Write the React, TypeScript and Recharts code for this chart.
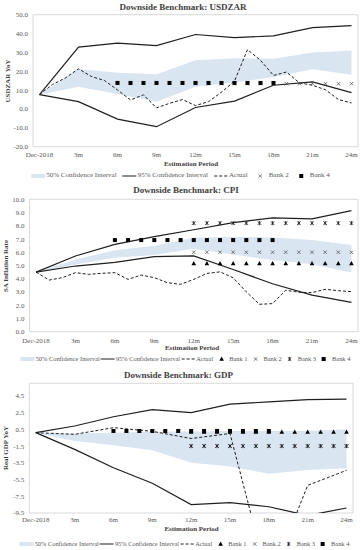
import React from "react"
import { ComposedChart, Line, Area, XAxis, YAxis, ReferenceArea } from "recharts"

// x positions: months after Dec-2018
const MONTHS = [0, 1, 2, 3, 4, 5, 6, 7, 8, 9, 10, 11, 12, 13, 14, 15, 16, 17, 18, 19, 20, 21, 22, 23, 24]
const QUARTERS = [0, 3, 6, 9, 12, 15, 18, 21, 24]
const TICK_LABELS = ["Dec-2018", "3m", "6m", "9m", "12m", "15m", "18m", "21m", "24m"]
const BANK4_MONTHS = [6, 7, 8, 9, 10, 11, 12, 13, 14, 15, 16, 17, 18]
const LATE_MONTHS = [12, 13, 14, 15, 16, 17, 18, 19, 20, 21, 22, 23, 24]

// USDZAR
const zarBandLow = [7.6, 11.8, 8.0, 3.8, 11.8, 14.0, 17.0, 21.1, 18.1]
const zarBandHigh = [7.6, 21.2, 19.2, 18.4, 25.8, 26.9, 26.6, 30.0, 31.0]
const zarUpper95 = [7.6, 32.8, 34.9, 33.6, 39.5, 37.8, 38.8, 43.1, 44.2]
const zarLower95 = [7.6, 3.9, -5.4, -9.4, 0.8, 4.2, 12.6, 14.4, 8.7]
const zarActual = [7.6, 13.0, 16.5, 21.3, 17.2, 15.1, 10.1, 4.8, 7.5, 0.6, 3.0, 5.0, 1.8, 3.9, 8.9, 14.8, 31.5, 25.8, 17.8, 19.6, 13.8, 12.6, 10.2, 5.0, 3.2]
const zarBank2 = [13.4, 13.4, 13.4, 13.4, 13.4, 13.4, 13.4, 13.4, 13.4, 13.4, 13.4, 13.4, 13.4]
const zarBank4 = [13.8, 13.8, 13.8, 13.8, 13.8, 13.8, 13.8, 13.8, 13.8, 13.8, 13.8, 13.8, 13.8]

// CPI
const cpiBandLow = [4.5, 5.08, 5.58, 5.8, 6.27, 5.83, 5.41, 5.09, 4.47]
const cpiBandHigh = [4.5, 5.45, 6.15, 6.5, 7.1, 7.17, 7.12, 6.92, 6.54]
const cpiUpper95 = [4.5, 5.72, 6.6, 7.18, 7.7, 8.24, 8.6, 8.52, 9.14]
const cpiLower95 = [4.5, 4.96, 5.24, 5.67, 5.72, 4.7, 3.62, 2.76, 2.22]
const cpiActual = [4.5, 3.9, 4.08, 4.46, 4.33, 4.41, 4.46, 3.95, 4.28, 4.08, 3.7, 3.58, 3.95, 4.4, 4.52, 4.07, 3.01, 2.07, 2.12, 3.13, 2.98, 2.95, 3.2, 3.1, 3.02]
const cpiBank1 = [5.15, 5.15, 5.15, 5.15, 5.15, 5.15, 5.15, 5.15, 5.15, 5.15, 5.15, 5.15, 5.15]
const cpiBank2 = [6.0, 6.0, 6.0, 6.0, 6.0, 6.0, 6.0, 6.0, 6.0, 6.0, 6.0, 6.0, 6.0]
const cpiBank3 = [8.2, 8.2, 8.2, 8.2, 8.2, 8.2, 8.2, 8.2, 8.2, 8.2, 8.2, 8.2, 8.2]
const cpiBank4 = [6.92, 6.92, 6.92, 6.92, 6.92, 6.92, 6.92, 6.92, 6.92, 6.92, 6.92, 6.92, 6.92]

// GDP (quarterly actuals)
const gdpBandLow = [0.1, -0.9, -1.4, -2.0, -3.5, -3.95, -4.8, -4.35, -4.15]
const gdpBandHigh = [0.1, 0.0, 0.1, 0.2, 0.25, 0.3, 0.3, 0.3, 0.5]
const gdpUpper95 = [0.1, 0.9, 2.0, 2.86, 2.5, 3.5, 3.78, 4.06, 4.1]
const gdpLower95 = [0.1, -1.9, -4.1, -5.94, -8.5, -8.27, -8.75, -9.8, -8.9]
const gdpActual = [0.1, -0.1, 0.7, 0.26, -0.6, 0.0, -17.8, -6.2, -4.4]
const gdpBank1 = [0.2, 0.2, 0.2, 0.2, 0.2, 0.2, 0.2, 0.2, 0.2, 0.2, 0.2, 0.2, 0.2]
const gdpBank2 = [-1.5, -1.5, -1.5, -1.5, -1.5, -1.5, -1.5, -1.5, -1.5, -1.5, -1.5, -1.5, -1.5]
const gdpBank3 = [-1.5, -1.5, -1.5, -1.5, -1.5, -1.5, -1.5, -1.5, -1.5, -1.5, -1.5, -1.5, -1.5]
const gdpBank4 = [0.3, 0.3, 0.3, 0.3, 0.3, 0.3, 0.3, 0.3, 0.3, 0.3, 0.3, 0.3, 0.3]

const FONT = "'Liberation Serif', 'Times New Roman', serif"
const BAND = "#dae5f2"
const INK = "#1f1f1f"
const GREY = "#595959"

type Kind = "band" | "solid" | "dashed" | "triangle" | "cross" | "star" | "square"

const pts = (xs: number[], vs: number[]) => xs.map((m, i) => ({ m, v: vs[i] }))
const range = (lo: number[], hi: number[]) => QUARTERS.map((m, i) => ({ m, v: [lo[i], hi[i]] }))

function Marker({ cx, cy, kind }: { cx: number; cy: number; kind: Kind }) {
  if (cx == null || cy == null) return null
  if (kind === "square") return <rect x={cx - 2} y={cy - 2} width={4} height={4} fill="#000" />
  if (kind === "triangle")
    return <polygon points={`${cx},${cy - 2.4} ${cx + 2.3},${cy + 1.8} ${cx - 2.3},${cy + 1.8}`} fill="#000" />
  const d = 1.7
  return (
    <g stroke={kind === "star" ? "#222" : "#444"} strokeWidth={kind === "star" ? 0.9 : 0.7}>
      <line x1={cx - d} y1={cy - d} x2={cx + d} y2={cy + d} />
      <line x1={cx - d} y1={cy + d} x2={cx + d} y2={cy - d} />
      {kind === "star" && <line x1={cx} y1={cy - 2.1} x2={cx} y2={cy + 2.1} />}
    </g>
  )
}

function LegendIcon({ kind }: { kind: Kind }) {
  return (
    <svg width={16} height={8} style={{ display: "block" }}>
      {kind === "band" && <rect x={1} y={2} width={14} height={4} fill={BAND} />}
      {kind === "solid" && <line x1={1} y1={4} x2={15} y2={4} stroke={INK} strokeWidth={1.2} />}
      {kind === "dashed" && <line x1={1} y1={4} x2={15} y2={4} stroke={INK} strokeWidth={1} strokeDasharray="3 2" />}
      {kind !== "band" && kind !== "solid" && kind !== "dashed" && <Marker cx={8} cy={4} kind={kind} />}
    </svg>
  )
}

type Bank = { name: string; months: number[]; values: number[]; kind: Kind }

type PanelProps = {
  top: number
  height: number
  title: string
  titleX: number
  titleY: number
  yLabel: string
  yLabelX: number
  domain: [number, number]
  yTicks: number[]
  plotTop: number
  plotBottom: number
  plotLeft: number
  plotRight: number
  tickGap: number
  xTitleX: number
  xTitleY: number
  bandLow: number[]
  bandHigh: number[]
  upper: number[]
  lower: number[]
  actualMonths: number[]
  actual: number[]
  banks: Bank[]
  legendX: number
  legendY: number
  legendFont: number
  legendGap: number
}

const txt = (x: number, y: number, extra: React.CSSProperties = {}): React.CSSProperties => ({
  position: "absolute",
  left: x,
  top: y,
  transform: "translate(-50%, -50%)",
  whiteSpace: "nowrap",
  fontFamily: FONT,
  lineHeight: 1,
  ...extra,
})

function Panel(p: PanelProps) {
  const axisH = 12
  const margin = {
    top: p.plotTop,
    right: 361 - p.plotRight,
    left: 0,
    bottom: p.height - p.plotBottom - axisH,
  }
  const legend: { label: string; kind: Kind }[] = [
    { label: "50% Confidence Interval", kind: "band" },
    { label: "95% Confidence Interval", kind: "solid" },
    { label: "Actual", kind: "dashed" },
    ...p.banks.map((b) => ({ label: b.name, kind: b.kind })),
  ]
  return (
    <div style={{ position: "absolute", left: 0, top: p.top, width: 361, height: p.height }}>
      <div style={txt(p.titleX, p.titleY, { fontSize: 9, fontWeight: "bold", color: "#404040" })}>{p.title}</div>
      <div style={txt(p.yLabelX, (p.plotTop + p.plotBottom) / 2, { fontSize: 7, fontWeight: "bold", color: "#404040", transform: "translate(-50%, -50%) rotate(-90deg)" })}>
        {p.yLabel}
      </div>
      <div style={txt(p.xTitleX, p.xTitleY, { fontSize: 7, fontWeight: "bold", color: "#404040" })}>Estimation Period</div>
      <ComposedChart width={361} height={p.height} margin={margin}>
        <XAxis
          type="number"
          dataKey="m"
          domain={[-0.5, 24.5]}
          ticks={QUARTERS}
          interval={0}
          tickFormatter={(v: number) => TICK_LABELS[QUARTERS.indexOf(v)]}
          height={axisH}
          axisLine={false}
          tickLine={false}
          tickSize={p.tickGap}
          tickMargin={0}
          allowDataOverflow
          tick={{ fill: GREY, fontSize: 7, fontFamily: FONT }}
        />
        <YAxis
          type="number"
          domain={p.domain}
          ticks={p.yTicks}
          interval={0}
          allowDataOverflow
          width={p.plotLeft}
          axisLine={false}
          tickLine={false}
          tickSize={3}
          tickMargin={2}
          tickFormatter={(v: number) => v.toFixed(1)}
          tick={{ fill: GREY, fontSize: 7, fontFamily: FONT }}
        />
        <ReferenceArea x1={-0.5} x2={24.5} y1={p.domain[0]} y2={p.domain[1]} fill="none" stroke="#d9d9d9" strokeWidth={1} />
        <Area
          data={range(p.bandLow, p.bandHigh)}
          dataKey="v"
          type="linear"
          fill={BAND}
          fillOpacity={1}
          stroke="none"
          isAnimationActive={false}
          activeDot={false}
        />
        <Line data={pts(QUARTERS, p.upper)} dataKey="v" type="linear" stroke={INK} strokeWidth={1.2} dot={false} activeDot={false} isAnimationActive={false} />
        <Line data={pts(QUARTERS, p.lower)} dataKey="v" type="linear" stroke={INK} strokeWidth={1.2} dot={false} activeDot={false} isAnimationActive={false} />
        <Line
          data={pts(p.actualMonths, p.actual)}
          dataKey="v"
          type="linear"
          stroke={INK}
          strokeWidth={1}
          strokeDasharray="3 2"
          dot={false}
          activeDot={false}
          isAnimationActive={false}
        />
        {p.banks.map((b) => (
          <Line
            key={b.name}
            data={pts(b.months, b.values)}
            dataKey="v"
            stroke="none"
            activeDot={false}
            isAnimationActive={false}
            dot={(d: any) => <Marker key={`${b.name}-${d.index}`} cx={d.cx} cy={d.cy} kind={b.kind} />}
          />
        ))}
      </ComposedChart>
      <div
        style={{
          position: "absolute",
          left: p.legendX,
          top: p.legendY,
          transform: "translate(-50%, -50%)",
          display: "flex",
          alignItems: "center",
          gap: p.legendGap,
          whiteSpace: "nowrap",
          fontFamily: FONT,
          fontSize: p.legendFont,
          color: GREY,
          lineHeight: 1,
        }}
      >
        {legend.map((it) => (
          <div key={it.label} style={{ display: "flex", alignItems: "center" }}>
            <LegendIcon kind={it.kind} />
            <span>{it.label}</span>
          </div>
        ))}
      </div>
    </div>
  )
}

export default function App() {
  return (
    <div style={{ position: "absolute", left: 0, top: 0, width: 361, height: 550, background: "#fff", overflow: "hidden" }}>
      <Panel
        top={0}
        height={185}
        title="Downside Benchmark: USDZAR"
        titleX={183}
        titleY={6.5}
        yLabel="USDZAR YoY"
        yLabelX={8}
        domain={[-20, 50]}
        yTicks={[-20, -10, 0, 10, 20, 30, 40, 50]}
        plotTop={14.7}
        plotBottom={146.7}
        plotLeft={33}
        plotRight={358}
        tickGap={5}
        xTitleX={191}
        xTitleY={164}
        bandLow={zarBandLow}
        bandHigh={zarBandHigh}
        upper={zarUpper95}
        lower={zarLower95}
        actualMonths={MONTHS}
        actual={zarActual}
        banks={[
          { name: "Bank 2", months: LATE_MONTHS, values: zarBank2, kind: "cross" },
          { name: "Bank 4", months: BANK4_MONTHS, values: zarBank4, kind: "square" },
        ]}
        legendX={180}
        legendY={175.7}
        legendFont={7}
        legendGap={5}
      />
      <Panel
        top={185}
        height={185}
        title="Downside Benchmark: CPI"
        titleX={186}
        titleY={4.5}
        yLabel="SA Inflation Rate"
        yLabelX={5.7}
        domain={[0, 10]}
        yTicks={[0, 1, 2, 3, 4, 5, 6, 7, 8, 9, 10]}
        plotTop={14.3}
        plotBottom={146.7}
        plotLeft={29.5}
        plotRight={358}
        tickGap={6.5}
        xTitleX={192}
        xTitleY={163.3}
        bandLow={cpiBandLow}
        bandHigh={cpiBandHigh}
        upper={cpiUpper95}
        lower={cpiLower95}
        actualMonths={MONTHS}
        actual={cpiActual}
        banks={[
          { name: "Bank 1", months: LATE_MONTHS, values: cpiBank1, kind: "triangle" },
          { name: "Bank 2", months: LATE_MONTHS, values: cpiBank2, kind: "cross" },
          { name: "Bank 3", months: LATE_MONTHS, values: cpiBank3, kind: "star" },
          { name: "Bank 4", months: BANK4_MONTHS, values: cpiBank4, kind: "square" },
        ]}
        legendX={185}
        legendY={174.3}
        legendFont={6.4}
        legendGap={0}
      />
      <Panel
        top={370}
        height={180}
        title="Downside Benchmark: GDP"
        titleX={178.5}
        titleY={4.5}
        yLabel="Real GDP YoY"
        yLabelX={5.7}
        domain={[-9.5, 6]}
        yTicks={[-9.5, -7.5, -5.5, -3.5, -1.5, 0.5, 2.5, 4.5]}
        plotTop={13.3}
        plotBottom={143}
        plotLeft={29.3}
        plotRight={353}
        tickGap={4.5}
        xTitleX={191.5}
        xTitleY={159.3}
        bandLow={gdpBandLow}
        bandHigh={gdpBandHigh}
        upper={gdpUpper95}
        lower={gdpLower95}
        actualMonths={QUARTERS}
        actual={gdpActual}
        banks={[
          { name: "Bank 1", months: LATE_MONTHS, values: gdpBank1, kind: "triangle" },
          { name: "Bank 2", months: LATE_MONTHS, values: gdpBank2, kind: "cross" },
          { name: "Bank 3", months: LATE_MONTHS, values: gdpBank3, kind: "star" },
          { name: "Bank 4", months: BANK4_MONTHS, values: gdpBank4, kind: "square" },
        ]}
        legendX={184}
        legendY={174}
        legendFont={6.4}
        legendGap={0}
      />
    </div>
  )
}
